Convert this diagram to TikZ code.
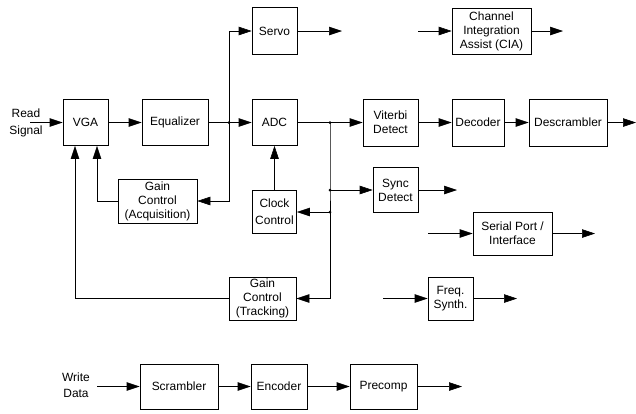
\documentclass[tikz,border=0pt]{standalone}
\usepackage{fontspec}
\setmainfont{Liberation Sans}
\usetikzlibrary{arrows.meta}
\tikzset{
  blk/.style={draw, line width=0.6pt, inner sep=0pt, align=center, font=\fontsize{12}{14}\selectfont},
  lbl/.style={inner sep=0pt, align=center, font=\fontsize{12}{16}\selectfont},
  conn/.style={line width=0.6pt, -{Triangle[length=13bp,width=8.5bp]}},
  wire/.style={line width=0.6pt},
  jdot/.style={circle, fill, inner sep=0pt, minimum size=3bp}
}
\begin{document}
\begin{tikzpicture}[x=1bp,y=-1bp]
\useasboundingbox (0,0) rectangle (636,413);
% boxes
\node[blk, minimum width=45bp, minimum height=46bp] (vga) at (85.5,122.5) {VGA};
\node[blk, minimum width=66bp, minimum height=46bp] (eq) at (175,122.5) {Equalizer};
\node[blk, minimum width=45bp, minimum height=46bp] (adc) at (274.5,122.5) {ADC};
\node[blk, minimum width=45bp, minimum height=47bp] (servo) at (274.5,31) {Servo};
\node[blk, minimum width=79bp, minimum height=46bp] (cia) at (491.5,31) {Channel\\Integration\\Assist (CIA)};
\node[blk, minimum width=55bp, minimum height=47bp] (vit) at (390.5,122.5) {Viterbi\\Detect};
\node[blk, minimum width=52bp, minimum height=47bp] (dec) at (478,122.5) {Decoder};
\node[blk, minimum width=78bp, minimum height=47bp] (desc) at (568,122.5) {Descrambler};
\node[blk, minimum width=79bp, minimum height=44bp] (gacq) at (157.5,201) {Gain\\Control\\(Acquisition)};
\node[blk, minimum width=44bp, minimum height=43bp, font=\fontsize{12}{17}\selectfont] (clk) at (274.5,212) {Clock\\Control};
\node[blk, minimum width=45bp, minimum height=45bp] (sync) at (395.5,190) {Sync\\Detect};
\node[blk, minimum width=79bp, minimum height=43bp] (ser) at (512.5,233.5) {Serial Port /\\Interface};
\node[blk, minimum width=67bp, minimum height=43bp] (gtrk) at (262.5,298.5) {Gain\\Control\\(Tracking)};
\node[blk, minimum width=45bp, minimum height=43bp] (freq) at (450.5,298.5) {Freq.\\Synth.};
\node[blk, minimum width=78bp, minimum height=45bp] (scr) at (179,386.5) {Scrambler};
\node[blk, minimum width=56bp, minimum height=45bp] (enc) at (279,386.5) {Encoder};
\node[blk, minimum width=67bp, minimum height=45bp] (pre) at (383.5,386.5) {Precomp};
% labels
\node[lbl] (rs) at (26,122.5) {Read\\[1pt]Signal};
\node[lbl] (wd) at (76,385) {Write\\Data};
% coordinates
\coordinate (rsin) at (30,122.5);
\coordinate (wdin) at (97,386.5);
\coordinate (j1) at (229,122.5);
\coordinate (j2) at (330,122.5);
\coordinate (j3) at (330,190);
\coordinate (j4) at (330,212);
\coordinate (servoout) at (342,31);
\coordinate (ciain) at (418,31);
\coordinate (ciaout) at (563,31);
\coordinate (descout) at (636,122.5);
\coordinate (syncout) at (457,190);
\coordinate (serin) at (428,233.5);
\coordinate (serout) at (595,233.5);
\coordinate (freqin) at (383,298.5);
\coordinate (freqout) at (517,298.5);
\coordinate (preout) at (462,386.5);
\coordinate (acqx) at (97,201);
\coordinate (trkx) at (75,298.5);
% connectors
\draw[conn] (rsin) -- (vga);
\draw[conn] (vga) -- (eq);
\draw[wire] (eq) -- (j1);
\draw[conn] (j1) -- (adc);
\draw[conn] (j1) |- (servo);
\draw[conn] (servo) -- (servoout);
\draw[conn] (j1) |- (gacq);
\draw[conn] (gacq.west) -- (acqx) -- (acqx |- vga.south);
\draw[conn] (gtrk.west) -- (trkx) -- (trkx |- vga.south);
\draw[conn] (clk) -- (adc);
\draw[wire] (adc) -- (j2);
\draw[conn] (j2) -- (vit);
\draw[conn] (vit) -- (dec);
\draw[conn] (dec) -- (desc);
\draw[conn] (desc) -- (descout);
\draw[wire] (j2) -- (j3) -- (j4);
\draw[conn] (j3) -- (sync);
\draw[conn] (sync) -- (syncout);
\draw[conn] (j4) -- (clk);
\draw[conn] (j4) |- (gtrk);
\draw[conn] (ciain) -- (cia);
\draw[conn] (cia) -- (ciaout);
\draw[conn] (serin) -- (ser);
\draw[conn] (ser) -- (serout);
\draw[conn] (freqin) -- (freq);
\draw[conn] (freq) -- (freqout);
\draw[conn] (wdin) -- (scr);
\draw[conn] (scr) -- (enc);
\draw[conn] (enc) -- (pre);
\draw[conn] (pre) -- (preout);
% junction dots
\node[jdot] at (j1) {};
\node[jdot] at (j2) {};
\node[jdot] at (j3) {};
\node[jdot] at (j4) {};
\end{tikzpicture}
\end{document}
